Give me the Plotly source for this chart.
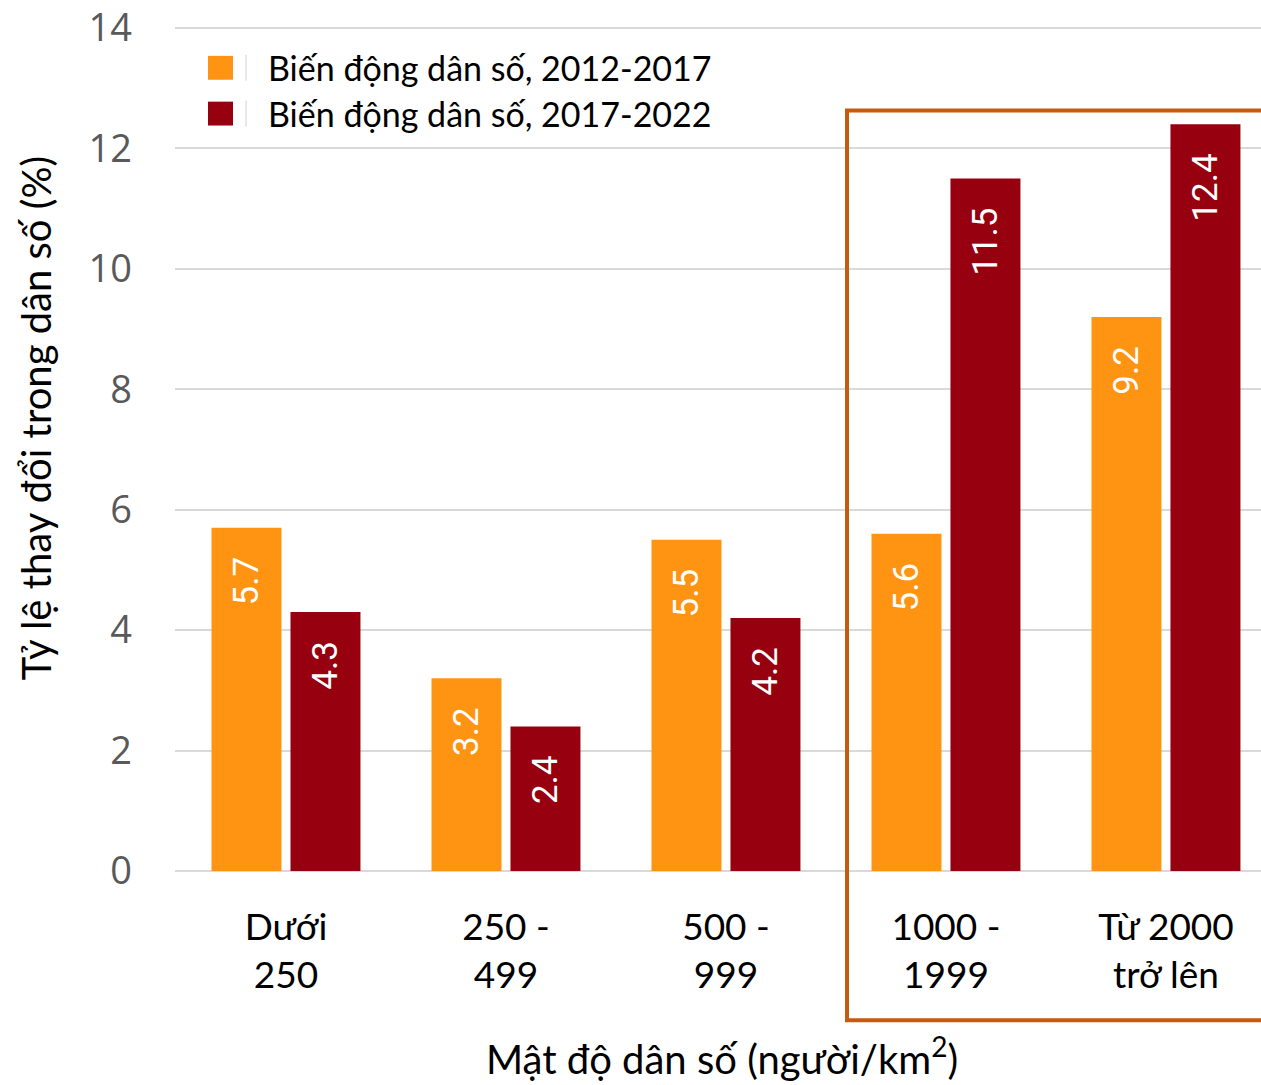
import plotly.graph_objects as go

categories = ["Dưới<br>250", "250 -<br>499", "500 -<br>999", "1000 -<br>1999", "Từ 2000<br>trở lên"]
series_names = ["Biến động dân số, 2012-2017", "Biến động dân số, 2017-2022"]
values_2012_2017 = [5.7, 3.2, 5.5, 5.6, 9.2]
values_2017_2022 = [4.3, 2.4, 4.2, 11.5, 12.4]
y_ticks = [0, 2, 4, 6, 8, 10, 12, 14]
colors = ["#FF9412", "#96000F"]

W, H = 1261, 1085
ML, MR, MT, MB = 175, 0, 21, 214
PW, PH = W - ML - MR, H - MT - MB


def px(x):
    return (x - ML) / PW


def py(y):
    return (H - MB - y) / PH


NB = "\u00a0\u00a0\u00a0"
fig = go.Figure()
for name, vals, col in zip(series_names, [values_2012_2017, values_2017_2022], colors):
    fig.add_trace(go.Bar(
        name=name, x=list(range(len(categories))), y=vals,
        marker=dict(color=col, line=dict(width=0)),
        text=[f"{v:.1f}" + NB for v in vals],
        textposition="inside", insidetextanchor="end", textangle=-90,
        textfont=dict(family="Roboto", size=35, color="white"),
        showlegend=False,
    ))

fig.update_layout(
    width=W, height=H,
    margin=dict(l=ML, r=MR, t=MT, b=MB, pad=0),
    paper_bgcolor="white", plot_bgcolor="white",
    barmode="group", bargap=0.282, bargroupgap=0.114,
    font=dict(family="Lato", color="black"),
    xaxis=dict(
        range=[-0.5045, 4.432], tickmode="array",
        tickvals=list(range(len(categories))), ticktext=categories,
        tickfont=dict(family="Lato", size=37, color="black"),
        showgrid=False, zeroline=False, showline=False, ticks="",
        ticklabelstandoff=31,
    ),
    yaxis=dict(
        range=[0, 14.05], tickmode="array", tickvals=y_ticks,
        tickfont=dict(family="Open Sans", size=38, color="#595959"),
        showgrid=True, gridcolor="#D9D9D9", gridwidth=2,
        zeroline=True, zerolinecolor="#D9D9D9", zerolinewidth=2,
        showline=False, ticks="", ticklabelstandoff=42,
        ticklabeloverflow="allow",
    ),
)

# axis titles
fig.add_annotation(text="Tỷ lệ thay đổi trong dân số (%)", xref="paper", yref="paper",
                   x=px(36), y=py(416), textangle=-90, showarrow=False,
                   xanchor="center", yanchor="middle",
                   font=dict(family="Lato", size=40, color="black"))
fig.add_annotation(text="Mật độ dân số (người/km<sup>2</sup>)", xref="paper", yref="paper",
                   x=px(722), y=py(1057), showarrow=False,
                   xanchor="center", yanchor="middle",
                   font=dict(family="Lato", size=40, color="black"))

# highlight box
fig.add_shape(type="rect", xref="paper", yref="paper",
              x0=px(847), x1=px(1275), y0=py(1021), y1=py(107),
              line=dict(color="#C55A11", width=4), fillcolor="rgba(0,0,0,0)")

# manual legend
for i, (name, col) in enumerate(zip(series_names, colors)):
    cy = 64 + i * 46
    fig.add_shape(type="rect", xref="paper", yref="paper",
                  x0=px(208), x1=px(233), y0=py(cy + 12), y1=py(cy - 12),
                  line=dict(width=0), fillcolor=col)
    fig.add_shape(type="line", xref="paper", yref="paper",
                  x0=px(246), x1=px(246), y0=py(cy + 13), y1=py(cy - 13),
                  line=dict(width=1, color="#D0D0D0"))
    fig.add_annotation(text=name, xref="paper", yref="paper",
                       x=px(266), y=py(cy), showarrow=False,
                       xanchor="left", yanchor="middle",
                       font=dict(family="Lato", size=34, color="black"))

fig.write_html("out.html", config={"displayModeBar": False},
               post_script="document.body.style.margin='0';")
